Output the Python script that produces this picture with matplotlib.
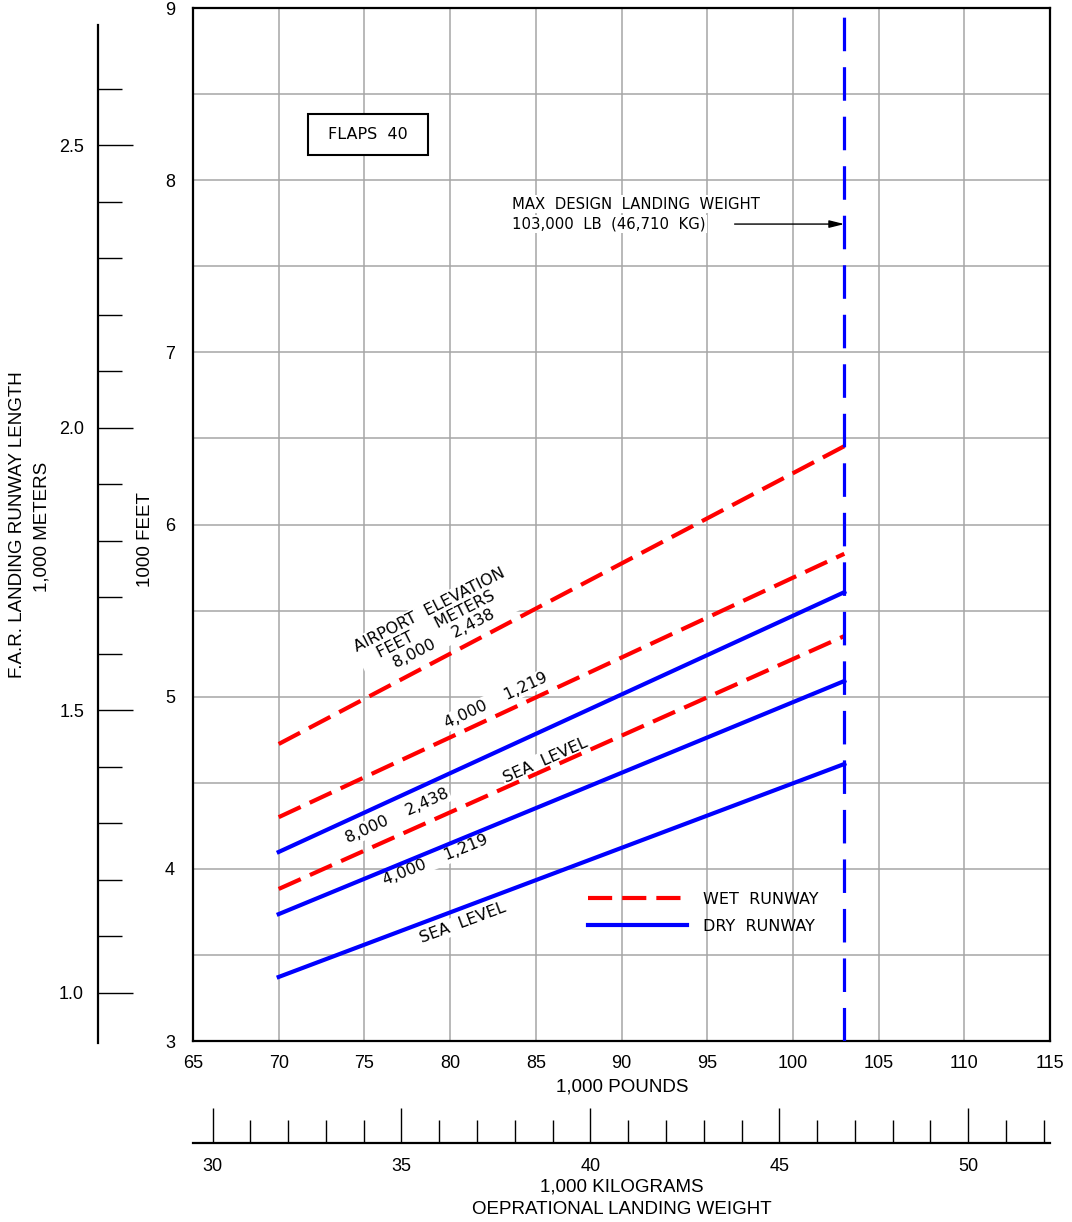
import numpy as np
import matplotlib
matplotlib.use("Agg")
import matplotlib.pyplot as plt
from matplotlib.lines import Line2D
from matplotlib.patches import Rectangle

# ---------------- data ----------------
weight_klb = [70, 103]                 # operational landing weight, 1000 lb
wet_8000 = [4.725, 6.455]              # runway length, 1000 ft
wet_4000 = [4.30, 5.83]
wet_sl = [3.883, 5.352]
dry_8000 = [4.098, 5.607]
dry_4000 = [3.737, 5.091]
dry_sl = [3.372, 4.609]
max_landing_weight = 103

x_ticks = list(range(65, 116, 5))
y_ticks = [3, 4, 5, 6, 7, 8, 9]
meter_major = [1.0, 1.5, 2.0, 2.5]
meter_minor = [1.1, 1.2, 1.3, 1.4, 1.6, 1.7, 1.8, 1.9, 2.1, 2.2, 2.3, 2.4, 2.6]
kg_major = [30, 35, 40, 45, 50]
kg_minor = [k for k in range(31, 53) if k % 5 != 0]

FT_TO_M = 0.3048
LB_TO_KG = 0.45359237

W, H = 1072, 1222
fig = plt.figure(figsize=(W / 100, H / 100), dpi=100)
TICKF = "Liberation Sans"
ANNF = "DejaVu Sans"
RED = "#ff0000"
BLUE = "#0000ff"
GRID = "#a6a6a6"
TF = 13
LF = 13.5

def fx(px):
    return px / W

def fy(py):
    return 1 - py / H

L, R, T, B = 193, 1050, 8, 1041
ax = fig.add_axes([fx(L), fy(B), (R - L) / W, (B - T) / H])
ax.set_xlim(65, 115)
ax.set_ylim(3, 9)
ax.set_xticks(x_ticks)
ax.set_xticklabels([str(v) for v in x_ticks], fontfamily=TICKF, fontsize=TF)
ax.set_yticks(y_ticks)
ax.set_yticklabels([str(v) for v in y_ticks], fontfamily=TICKF, fontsize=TF)
ax.set_yticks(np.arange(3.5, 9, 1.0), minor=True)
ax.tick_params(which="both", length=0)
ax.tick_params(axis="x", pad=10)
ax.tick_params(axis="y", pad=13)
ax.grid(which="both", color=GRID, lw=1.1)
ax.set_axisbelow(True)
for s in ax.spines.values():
    s.set_linewidth(1.6)
    s.set_color("black")

# curves
dash_red = (5.8, 2.4)
ax.plot(weight_klb, wet_8000, color=RED, lw=3, dashes=dash_red, zorder=3)
ax.plot(weight_klb, wet_4000, color=RED, lw=3, dashes=dash_red, zorder=3)
ax.plot(weight_klb, wet_sl, color=RED, lw=3, dashes=dash_red, zorder=3)
ax.plot(weight_klb, dry_8000, color=BLUE, lw=3, zorder=3)
ax.plot(weight_klb, dry_4000, color=BLUE, lw=3, zorder=3)
ax.plot(weight_klb, dry_sl, color=BLUE, lw=3, zorder=3)
ax.axvline(max_landing_weight, color=BLUE, lw=2.3, dashes=(10.5, 5.0), zorder=4)

# annotations
wbox = dict(facecolor="white", edgecolor="none", pad=1.0)
AF = 11.5
ax.text(79.2, 5.42, "AIRPORT  ELEVATION\nFEET     METERS\n8,000    2,438",
        rotation=27, ha="center", va="center", multialignment="center",
        rotation_mode="anchor", fontfamily=ANNF, fontsize=AF,
        linespacing=1.1, bbox=wbox, zorder=2)
ax.text(82.68, 4.98, "4,000    1,219", rotation=25, ha="center", va="center",
        rotation_mode="anchor", fontfamily=ANNF, fontsize=AF, bbox=wbox, zorder=2)
ax.text(85.54, 4.632, "SEA  LEVEL", rotation=24, ha="center", va="center",
        rotation_mode="anchor", fontfamily=ANNF, fontsize=AF, bbox=wbox, zorder=2)
ax.text(76.9, 4.307, "8,000    2,438", rotation=24.5, ha="center", va="center",
        rotation_mode="anchor", fontfamily=ANNF, fontsize=AF, bbox=wbox, zorder=2)
ax.text(79.12, 4.051, "4,000    1,219", rotation=22, ha="center", va="center",
        rotation_mode="anchor", fontfamily=ANNF, fontsize=AF, bbox=wbox, zorder=2)
ax.text(80.75, 3.685, "SEA  LEVEL", rotation=20.5, ha="center", va="center",
        rotation_mode="anchor", fontfamily=ANNF, fontsize=AF, bbox=wbox, zorder=2)

# FLAPS box
ax.add_patch(Rectangle((71.71, 8.146), 7.0, 0.238, facecolor="white",
                       edgecolor="black", lw=1.5, zorder=2))
ax.text(75.21, 8.265, "FLAPS  40", ha="center", va="center",
        fontfamily=ANNF, fontsize=11.5, zorder=3)

# max design landing weight
ax.text(83.61, 7.861, "MAX  DESIGN  LANDING  WEIGHT", ha="left", va="center",
        fontfamily=ANNF, fontsize=10.7, bbox=wbox, zorder=2)
ax.text(83.61, 7.745, "103,000  LB  (46,710  KG)", ha="left", va="center",
        fontfamily=ANNF, fontsize=10.7, bbox=wbox, zorder=2)
ax.annotate("", xy=(max_landing_weight, 7.745), xytext=(96.6, 7.745),
            arrowprops=dict(arrowstyle="-|>,head_length=0.6,head_width=0.15",
                            color="black", lw=1.0, mutation_scale=15,
                            shrinkA=0, shrinkB=0), zorder=5)

# legend
handles = [Line2D([], [], color=RED, lw=3, dashes=dash_red),
           Line2D([], [], color=BLUE, lw=3)]
leg = ax.legend(handles, ["WET  RUNWAY", "DRY  RUNWAY"], loc="upper left",
                bbox_to_anchor=(fx(588), fy(892)), bbox_transform=fig.transFigure,
                frameon=False, borderpad=0, borderaxespad=0, handlelength=6.2,
                handletextpad=1.0, labelspacing=0.75,
                prop=dict(family=ANNF, size=11.5))

# axis labels
fig.text(fx(145), fy(540), "1000 FEET", rotation=90, ha="center", va="center",
         fontfamily=TICKF, fontsize=LF)
fig.text(fx(622), fy(1087), "1,000 POUNDS", ha="center", va="center",
         fontfamily=TICKF, fontsize=LF)

# left meters scale
axL = fig.add_axes([fx(98), fy(B), 0.02, (B - T) / H])
axL.set_ylim(3 * FT_TO_M, 9 * FT_TO_M)
axL.patch.set_visible(False)
for k in ["top", "right", "bottom"]:
    axL.spines[k].set_visible(False)
axL.spines["left"].set_linewidth(1.6)
axL.spines["left"].set_bounds(0.911, 2.713)
axL.set_xticks([])
axL.set_yticks(meter_major)
axL.set_yticklabels([f"{v:.1f}" for v in meter_major], fontfamily=TICKF, fontsize=TF)
axL.set_yticks(meter_minor, minor=True)
axL.tick_params(axis="y", which="major", direction="in", length=25, width=1.0, pad=10)
axL.tick_params(axis="y", which="minor", direction="in", length=17, width=1.0)
fig.text(fx(18), fy(525), "F.A.R. LANDING RUNWAY LENGTH", rotation=90,
         ha="center", va="center", fontfamily=TICKF, fontsize=LF)
fig.text(fx(42), fy(527), "1,000 METERS", rotation=90,
         ha="center", va="center", fontfamily=TICKF, fontsize=LF)

# bottom kilogram scale
axB = fig.add_axes([fx(L), fy(1143), (R - L) / W, 0.02])
axB.set_xlim(65 * LB_TO_KG, 115 * LB_TO_KG)
axB.patch.set_visible(False)
for k in ["top", "right", "left"]:
    axB.spines[k].set_visible(False)
axB.spines["bottom"].set_linewidth(1.6)
axB.set_yticks([])
axB.set_xticks(kg_major)
axB.set_xticklabels([str(v) for v in kg_major], fontfamily=TICKF, fontsize=TF)
axB.set_xticks(kg_minor, minor=True)
axB.tick_params(axis="x", which="major", direction="in", length=25, width=1.0, pad=11)
axB.tick_params(axis="x", which="minor", direction="in", length=16.5, width=1.0)
fig.text(fx(622), fy(1187), "1,000 KILOGRAMS", ha="center", va="center",
         fontfamily=TICKF, fontsize=LF)
fig.text(fx(622), fy(1210), "OEPRATIONAL LANDING WEIGHT", ha="center", va="center",
         fontfamily=TICKF, fontsize=LF)

fig.savefig("out.png", dpi=100)
